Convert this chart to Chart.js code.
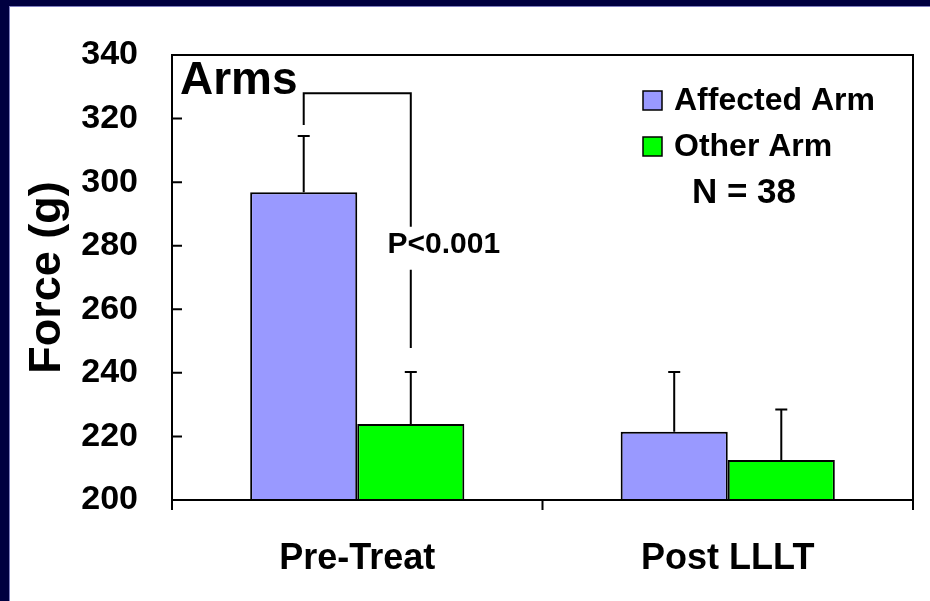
<!DOCTYPE html>
<html>
<head>
<meta charset="utf-8">
<script src="https://cdn.jsdelivr.net/npm/chart.js@4.4.1/dist/chart.umd.min.js"></script>
<style>
  html, body { margin: 0; padding: 0; background: #fff; }
  #wrap { position: relative; width: 930px; height: 601px; overflow: hidden; }
  #chart { position: absolute; left: 0; top: 0; }
  .band { position: absolute; background: #000040; }
  .edge { position: absolute; background: #8080c0; }
</style>
</head>
<body>
<div id="wrap">
  <canvas id="chart" width="930" height="601"></canvas>
  <div class="band" style="left:0;top:0;width:930px;height:6px"></div>
  <div class="band" style="left:0;top:0;width:9px;height:601px"></div>
  <div class="edge" style="left:9px;top:6px;width:921px;height:1px"></div>
  <div class="edge" style="left:9px;top:6px;width:1px;height:595px"></div>
</div>
<script>
const FONT = "'Liberation Sans', Arial, sans-serif";

const groups = ["Pre-Treat", "Post LLLT"]; //categories on the X-axis
const affected = [296.8, 221.5]; //Affected Arm means
const affectedErr = [17.7, 18.8]; //upper error bars
const other = [223.9, 212.6]; //Other Arm means
const otherErr = [16.4, 15.9];
const yTicks = [200, 220, 240, 260, 280, 300, 320, 340];

// significance bracket between the two Pre-Treat bars (in grams)
const bracketTop = 328;
const bracketLeftEnd = 318;
const bracketGapTop = 286;
const bracketGapBottom = 272.4;
const bracketRightEnd = 247.8;
const pValueLabel = "P<0.001";
const pValueAt = 280.2;

// draws box, inward ticks, error bars, bracket, legend and notes
const overlay = {
  id: "overlay",
  afterDatasetsDraw(chart) {
    const { ctx, chartArea: a, scales: { x, y } } = chart;
    ctx.save();
    ctx.strokeStyle = "#000";
    ctx.lineWidth = 2;
    ctx.lineCap = "butt";

    //error bars (upper only)
    chart.data.datasets.forEach((ds, i) => {
      chart.getDatasetMeta(i).data.forEach((bar, j) => {
        const top = y.getPixelForValue(ds.data[j] + ds.errors[j]);
        ctx.beginPath();
        ctx.moveTo(bar.x, bar.y);
        ctx.lineTo(bar.x, top);
        ctx.moveTo(bar.x - 6, top);
        ctx.lineTo(bar.x + 6, top);
        ctx.stroke();
      });
    });

    //frame of the plot
    ctx.strokeRect(a.left, a.top, a.width, a.height);

    //y ticks pointing inward
    ctx.beginPath();
    yTicks.forEach(v => {
      const py = y.getPixelForValue(v);
      ctx.moveTo(a.left, py);
      ctx.lineTo(a.left + 10, py);
    });
    //x ticks at category edges
    const mid = (x.getPixelForValue(0) + x.getPixelForValue(1)) / 2;
    [a.left, mid, a.right].forEach(px => {
      ctx.moveTo(px, a.bottom);
      ctx.lineTo(px, a.bottom + 10);
    });
    ctx.stroke();

    //bracket
    const b0 = chart.getDatasetMeta(0).data[0];
    const b1 = chart.getDatasetMeta(1).data[0];
    ctx.beginPath();
    ctx.moveTo(b0.x, y.getPixelForValue(bracketLeftEnd));
    ctx.lineTo(b0.x, y.getPixelForValue(bracketTop));
    ctx.lineTo(b1.x, y.getPixelForValue(bracketTop));
    ctx.lineTo(b1.x, y.getPixelForValue(bracketGapTop));
    ctx.moveTo(b1.x, y.getPixelForValue(bracketGapBottom));
    ctx.lineTo(b1.x, y.getPixelForValue(bracketRightEnd));
    ctx.stroke();

    ctx.fillStyle = "#000";
    ctx.textBaseline = "middle";
    ctx.textAlign = "center";
    ctx.font = "bold 30px " + FONT;
    ctx.fillText(pValueLabel, b1.x + 33, y.getPixelForValue(pValueAt));

    //panel title
    ctx.textAlign = "left";
    ctx.font = "bold 46px " + FONT;
    ctx.fillText("Arms", a.left + 8, a.top + 26);

    //legend
    ctx.font = "bold 32px " + FONT;
    chart.data.datasets.forEach((ds, i) => {
      const cy = a.top + 45 + i * 46;
      ctx.fillStyle = ds.backgroundColor;
      ctx.fillRect(a.left + 471, cy - 9, 19, 19);
      ctx.lineWidth = 1.5;
      ctx.strokeRect(a.left + 471, cy - 9, 19, 19);
      ctx.fillStyle = "#000";
      ctx.fillText(ds.label, a.left + 502, cy + 1);
    });
    ctx.textAlign = "center";
    ctx.font = "bold 35px " + FONT;
    ctx.fillText("N = 38", a.left + 572, a.top + 138);
    ctx.restore();
  }
};

new Chart(document.getElementById("chart"), {
  type: "bar",
  data: {
    labels: groups,
    datasets: [
      {
        label: "Affected Arm",
        data: affected,
        errors: affectedErr,
        backgroundColor: "#9999ff",
        borderColor: "#000",
        borderWidth: 2,
        borderSkipped: false
      },
      {
        label: "Other Arm",
        data: other,
        errors: otherErr,
        backgroundColor: "#00ff00",
        borderColor: "#000",
        borderWidth: 2,
        borderSkipped: false
      }
    ]
  },
  options: {
    responsive: false,
    animation: false,
    devicePixelRatio: 1,
    layout: { padding: { top: 55, right: 17, left: 0, bottom: 0 } },
    datasets: { bar: { categoryPercentage: 0.578, barPercentage: 1.0 } },
    plugins: { legend: { display: false }, tooltip: { enabled: false } },
    scales: {
      x: {
        grid: { display: false },
        border: { display: false },
        ticks: { color: "#000", padding: 29, font: { family: FONT, size: 36, weight: "bold" } },
        afterFit(s) { s.height = 101; }
      },
      y: {
        min: 200,
        max: 340,
        grid: { display: false },
        border: { display: false },
        afterBuildTicks(s) { s.ticks = yTicks.map(v => ({ value: v })); },
        ticks: { color: "#000", padding: 26, font: { family: FONT, size: 34, weight: "bold" } },
        title: {
          display: true,
          text: "Force (g)",
          color: "#000",
          padding: { top: 21, bottom: 0 },
          font: { family: FONT, size: 45, weight: "bold" }
        },
        afterFit(s) { s.width = 172; }
      }
    }
  },
  plugins: [overlay]
});
</script>
</body>
</html>
